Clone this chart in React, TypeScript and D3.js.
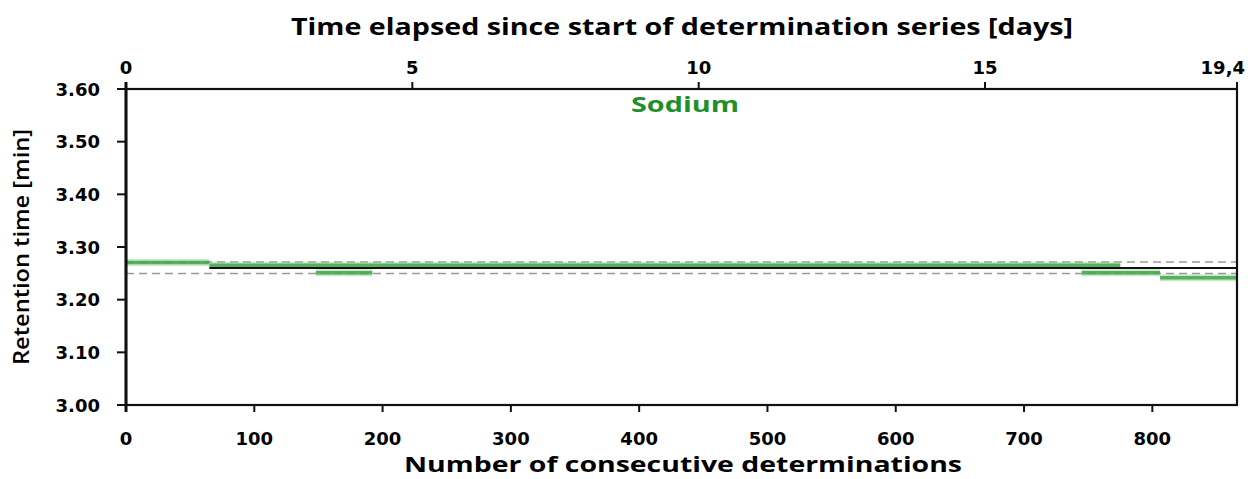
import React from "react";
import * as d3 from "d3";

// bottom axis: determination number, top axis: elapsed days
const detTicks = [0, 100, 200, 300, 400, 500, 600, 700, 800];
const dayTicks = [0, 5, 10, 15, 19.4];
const dayLabels = ["0", "5", "10", "15", "19,4"];
const rtTicks = [3.0, 3.1, 3.2, 3.3, 3.4, 3.5, 3.6];

// green bands of measured retention times (runs of determinations at one level)
const segStart = [0, 65, 148, 745, 806];
const segEnd = [65, 775, 192, 806, 866];
const segValue = [3.2705, 3.2652, 3.251, 3.251, 3.2415];

// mean and tolerance lines
const meanValue = 3.26;
const meanFrom = 65;
const limitValues = [3.2715, 3.2495];

const W = 1248;
const H = 479;
const margin = { top: 89, right: 11, bottom: 74, left: 126 };
const font = "'DejaVu Sans', sans-serif";
const titleFont = "'Open Sans', sans-serif";

export default function App() {
  const x = d3.scaleLinear().domain([0, 866]).range([margin.left, W - margin.right]);
  const xDays = d3.scaleLinear().domain([0, 19.4]).range([margin.left, W - margin.right]);
  const y = d3.scaleLinear().domain([3.0, 3.6]).range([H - margin.bottom, margin.top]);
  const [x0, x1] = x.range();
  const [yb, yt] = y.range();

  const bandLine = d3.line<[number, number]>().x((d) => x(d[0])).y((d) => y(d[1]));

  return (
    <svg width={W} height={H} style={{ position: "absolute", left: 0, top: 0, background: "#fff" }}>
      {/* titles */}
      <text x={682} y={35} textAnchor="middle" fontFamily={titleFont} fontWeight="bold" fontSize={23}
        textLength={782} lengthAdjust="spacingAndGlyphs">
        Time elapsed since start of determination series [days]
      </text>
      <text x={683} y={472} textAnchor="middle" fontFamily={titleFont} fontWeight="bold" fontSize={22}
        textLength={558} lengthAdjust="spacingAndGlyphs">
        Number of consecutive determinations
      </text>
      <text transform={`translate(29,${247}) rotate(-90)`} textAnchor="middle" fontFamily={titleFont}
        fontWeight={600} fontSize={21} textLength={236} lengthAdjust="spacingAndGlyphs">
        Retention time [min]
      </text>
      <text x={685} y={112} textAnchor="middle" fontFamily={titleFont} fontWeight="bold" fontSize={22}
        fill="#1f8f2a" textLength={108} lengthAdjust="spacingAndGlyphs">
        Sodium
      </text>

      {/* limit lines */}
      {limitValues.map((v, i) => (
        <line key={"lim" + i} x1={x0} x2={x1} y1={y(v)} y2={y(v)} stroke="#9a9a9a"
          strokeWidth={1.5} strokeDasharray="8,5" />
      ))}

      {/* measured bands */}
      {segValue.map((v, i) => (
        <g key={"seg" + i}>
          <path d={bandLine([[segStart[i], v], [segEnd[i], v]]) || ""} stroke="#8fd18f"
            strokeWidth={7} strokeOpacity={0.5} fill="none" />
          <path d={bandLine([[segStart[i], v], [segEnd[i], v]]) || ""} stroke="#3f9f45"
            strokeWidth={3.5} strokeOpacity={0.8} fill="none" />
        </g>
      ))}

      {/* mean line */}
      <line x1={x(meanFrom)} x2={x1} y1={y(meanValue)} y2={y(meanValue)} stroke="#111" strokeWidth={2} />

      {/* frame */}
      <rect x={x0} y={yt} width={x1 - x0} height={yb - yt} fill="none" stroke="#111" strokeWidth={2.2} />
      <line x1={x0} x2={x0} y1={yt - 7} y2={yb + 7} stroke="#111" strokeWidth={3} />

      {/* left axis */}
      {rtTicks.map((t) => (
        <g key={"y" + t}>
          <line x1={x0 - 9} x2={x0} y1={y(t)} y2={y(t)} stroke="#111" strokeWidth={2} />
          <text x={100} y={y(t) + 6.5} textAnchor="end" fontFamily={font} fontWeight="bold" fontSize={18}>
            {t.toFixed(2)}
          </text>
        </g>
      ))}

      {/* bottom axis */}
      {detTicks.map((t) => (
        <g key={"x" + t}>
          <line x1={x(t)} x2={x(t)} y1={yb} y2={yb + 7} stroke="#111" strokeWidth={2} />
          <text x={x(t)} y={445} textAnchor="middle" fontFamily={font} fontWeight="bold" fontSize={18}>
            {t}
          </text>
        </g>
      ))}

      {/* top axis */}
      {dayTicks.map((t, i) => (
        <g key={"d" + t}>
          <line x1={xDays(t)} x2={xDays(t)} y1={yt - 7} y2={yt} stroke="#111" strokeWidth={2} />
          <text x={i === dayTicks.length - 1 ? W - 3 : xDays(t)} y={74}
            textAnchor={i === dayTicks.length - 1 ? "end" : "middle"} fontFamily={font}
            fontWeight="bold" fontSize={18}>
            {dayLabels[i]}
          </text>
        </g>
      ))}
    </svg>
  );
}
